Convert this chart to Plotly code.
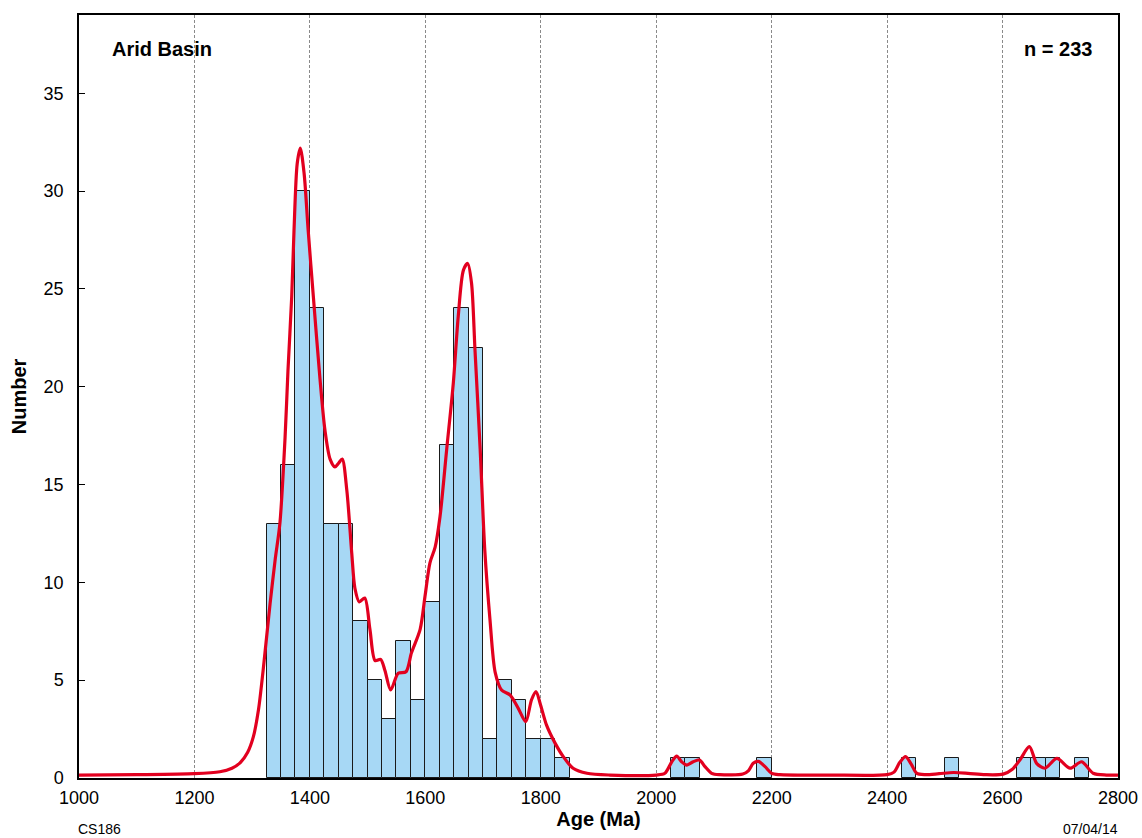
import plotly.graph_objects as go

# Histogram bins (left edge, Ma) and counts
bin_start = [1325, 1350, 1375, 1400, 1425, 1450, 1475, 1500, 1525, 1550, 1575,
             1600, 1625, 1650, 1675, 1700, 1725, 1750, 1775, 1800, 1825,
             2025, 2050, 2175, 2425, 2500, 2625, 2650, 2675, 2725]
counts = [13, 16, 30, 24, 13, 13, 8, 5, 3, 7, 4,
          9, 17, 24, 22, 2, 5, 4, 2, 2, 1,
          1, 1, 1, 1, 1, 1, 1, 1, 1]
bin_width = 25

# Probability density curve
curve_age = [1000, 1100, 1200, 1244, 1265, 1279, 1292, 1302, 1311, 1319, 1331, 1340, 1348,
             1357, 1362, 1368.5, 1372.5, 1378, 1383.4, 1390, 1397, 1406, 1417.5, 1426,
             1435, 1443.5, 1450, 1456, 1464, 1472.5, 1478, 1485.6, 1495, 1504, 1513,
             1522.6, 1530, 1540, 1553, 1566.5, 1576, 1591, 1599.5, 1608, 1617, 1625.4,
             1637, 1648.5, 1657, 1666, 1673.4, 1680, 1686, 1695, 1703, 1712, 1721, 1732,
             1747, 1761, 1774, 1784, 1792, 1799, 1810, 1825, 1839, 1856, 1880, 1920,
             2000, 2015, 2027, 2035.5, 2044, 2053, 2064, 2075, 2084.5, 2096, 2110, 2150,
             2160, 2168, 2177, 2188.5, 2200, 2214, 2300, 2400, 2412, 2422, 2432, 2442,
             2451, 2465, 2490, 2515, 2540, 2570, 2601, 2617, 2630, 2646.5, 2659, 2673.6,
             2694, 2717, 2737, 2757, 2780, 2800]
curve_val = [0.15, 0.17, 0.22, 0.32, 0.5, 0.77, 1.3, 2.1, 3.5, 5.5, 8.9, 11.2, 13.0,
             17.4, 20.8, 24.6, 28.0, 31.4, 32.2, 30.9, 28.0, 24.6, 20.4, 17.8,
             16.3, 15.9, 16.1, 16.3, 14.7, 11.5, 9.7, 9.0, 9.2, 7.6, 6.0,
             6.06, 5.5, 4.5, 5.35, 5.43, 6.4, 7.6, 9.3, 11.0, 11.8, 13.35,
             16.8, 20.2, 23.6, 25.96, 26.3, 25.3, 21.9, 16.8, 11.65, 8.1, 5.4, 4.5,
             4.24, 3.56, 2.88, 4.0, 4.41, 3.8, 2.7, 1.77, 1.09, 0.5, 0.24, 0.15,
             0.15, 0.24, 0.83, 1.12, 0.83, 0.66, 0.83, 0.92, 0.58, 0.24, 0.17, 0.2,
             0.38, 0.75, 0.85, 0.58, 0.24, 0.17, 0.15, 0.17, 0.3, 0.8, 1.09, 0.7,
             0.25, 0.17, 0.22, 0.28, 0.24, 0.17, 0.2, 0.45, 0.92, 1.6, 0.75, 0.5,
             1.0, 0.5, 0.83, 0.24, 0.15, 0.15]

x_ticks = [1000, 1200, 1400, 1600, 1800, 2000, 2200, 2400, 2600, 2800]
y_ticks = [0, 5, 10, 15, 20, 25, 30, 35]

FONT = "Liberation Sans, Arial, Helvetica, sans-serif"
W, H = 1142, 838
ML, MR, MT, MB = 79, 24, 15, 60
PW, PH = W - ML - MR, H - MT - MB


def px_x(px):
    return (px - ML) / PW


def px_y(py):
    return (H - MB - py) / PH


fig = go.Figure()
fig.add_trace(go.Bar(
    x=[s + bin_width / 2 for s in bin_start], y=counts, width=bin_width,
    marker=dict(color="#a7d8f5", line=dict(color="#1a1a1a", width=1)),
    hoverinfo="x+y", showlegend=False,
))
fig.add_trace(go.Scatter(
    x=curve_age, y=curve_val, mode="lines",
    line=dict(color="#e2001f", width=3.2, shape="spline", smoothing=0.8),
    showlegend=False,
))

fig.update_layout(
    width=W, height=H,
    margin=dict(l=ML, r=MR, t=MT, b=MB, autoexpand=False),
    paper_bgcolor="white", plot_bgcolor="white",
    font=dict(family=FONT, size=18, color="black"),
    bargap=0,
    xaxis=dict(
        range=[1000, 2800], tickvals=x_ticks, ticks="", 
        showline=True, linecolor="black", linewidth=1.5,
        mirror=True, showgrid=True, gridcolor="#8a8a8a", gridwidth=1,
        griddash="3px,2px", zeroline=False, ticklabelstandoff=3, automargin=False,
        title=dict(text="<b>Age (Ma)</b>", font=dict(size=20), standoff=4),
    ),
    yaxis=dict(
        range=[0, 39], tickvals=y_ticks, ticks="inside", ticklen=6,
        tickcolor="black", showline=True, linecolor="black", linewidth=1.5,
        mirror=True, showgrid=False, zeroline=False, ticklabelstandoff=10,
        automargin=False,
        title=dict(text="<b>Number</b>", font=dict(size=20), standoff=12),
    ),
    annotations=[
        dict(text="<b>Arid Basin</b>", x=px_x(110), y=px_y(49), xref="paper", yref="paper",
             xanchor="left", yanchor="middle", showarrow=False, font=dict(size=20)),
        dict(text="<b>n = 233</b>", x=px_x(1094), y=px_y(49), xref="paper", yref="paper",
             xanchor="right", yanchor="middle", showarrow=False, font=dict(size=20)),
        dict(text="CS186", x=px_x(76), y=px_y(829), xref="paper", yref="paper",
             xanchor="left", yanchor="middle", showarrow=False, font=dict(size=14)),
        dict(text="07/04/14", x=px_x(1120), y=px_y(829), xref="paper", yref="paper",
             xanchor="right", yanchor="middle", showarrow=False, font=dict(size=14)),
    ],
)

fig.write_html(
    "out.html",
    config={"displayModeBar": False},
    post_script="document.body.style.margin='0';document.body.style.overflow='hidden';",
)
